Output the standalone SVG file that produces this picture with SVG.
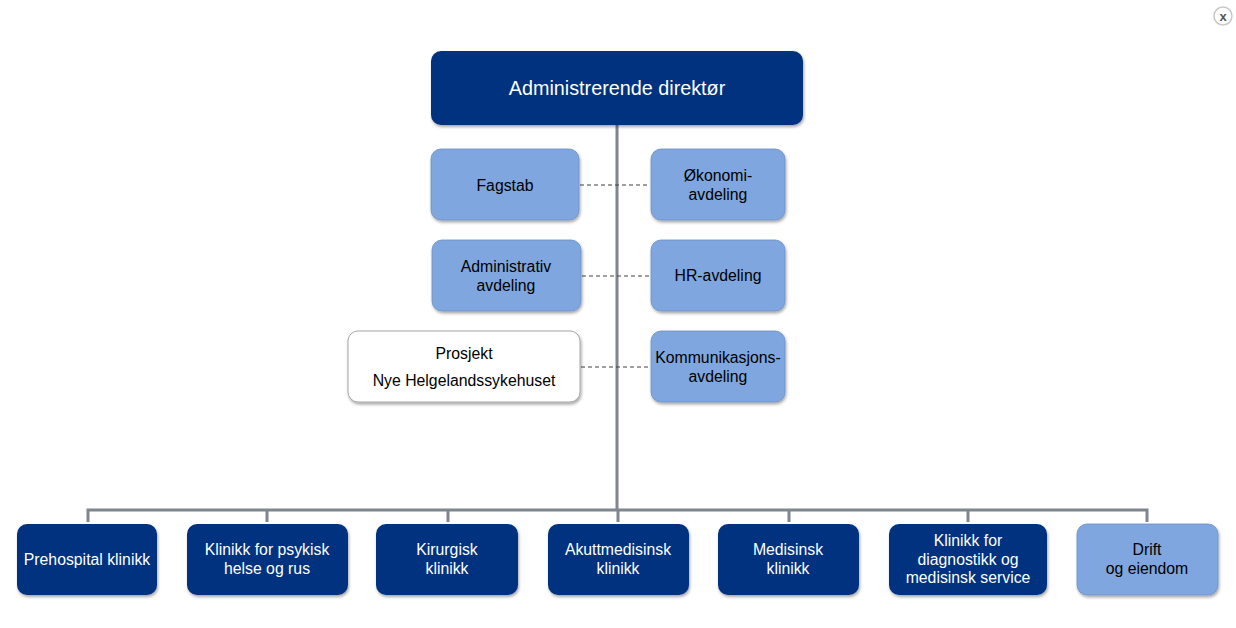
<svg xmlns="http://www.w3.org/2000/svg" width="1236" height="628" viewBox="0 0 1236 628">
<defs>
<filter id="sh" x="-10%" y="-10%" width="125%" height="130%">
<feDropShadow dx="1" dy="2" stdDeviation="1.5" flood-color="#000" flood-opacity="0.35"/>
</filter>
</defs>
<style>
.dark{fill:#003380;filter:url(#sh)}
.light{fill:#7fa6de;stroke:#6b8fc4;stroke-width:0.8;filter:url(#sh)}
.white{fill:#fff;stroke:#a6a6a6;stroke-width:1;filter:url(#sh)}
text{font-family:"Liberation Sans",Arial,sans-serif;font-size:15.8px;text-anchor:middle}
.wt{fill:#fff}
.bt{fill:#000}
.conn{stroke:#7f868f;stroke-width:3;fill:none}
.dash{stroke:#404040;stroke-width:1;stroke-dasharray:4,3;fill:none}
</style>
<rect width="1236" height="628" fill="#fff"/>
<g id="close">
<circle cx="1223" cy="16" r="9" fill="#fff" stroke="#c8c8c8" stroke-width="1.5"/>
<text x="1223" y="20.5" style="font-size:13px;font-weight:bold;fill:#555">x</text>
</g>
<g id="connectors">
<path class="conn" d="M617,125 V510 M88,522 V510 H1147 V522 M267,510 V522 M448,510 V522 M618,510 V522 M789,510 V522 M968,510 V522"/>
<path class="dash" d="M580,185 H650 M582,276 H650 M581,367 H650"/>
</g>
<g id="ceo">
<rect class="dark" x="431" y="51" width="372" height="74" rx="10"/>
<text class="wt" x="617" y="95" style="font-size:19.8px">Administrerende direktør</text>
</g>
<g id="fagstab">
<rect class="light" x="431" y="149" width="148" height="71" rx="10"/>
<text class="bt" x="505" y="190.5">Fagstab</text>
</g>
<g id="okonomi">
<rect class="light" x="651" y="149" width="134" height="71" rx="10"/>
<text class="bt" x="718" y="180.5">Økonomi-</text>
<text class="bt" x="718" y="199.5">avdeling</text>
</g>
<g id="administrativ">
<rect class="light" x="432" y="240" width="149" height="71" rx="10"/>
<text class="bt" x="506" y="271.5">Administrativ</text>
<text class="bt" x="506" y="290.5">avdeling</text>
</g>
<g id="hr">
<rect class="light" x="651" y="240" width="134" height="71" rx="10"/>
<text class="bt" x="718" y="280.5">HR-avdeling</text>
</g>
<g id="prosjekt">
<rect class="white" x="348" y="331" width="232" height="71" rx="10"/>
<text class="bt" x="464" y="358.5">Prosjekt</text>
<text class="bt" x="464" y="385.5">Nye Helgelandssykehuset</text>
</g>
<g id="kommunikasjon">
<rect class="light" x="651" y="331" width="134" height="71" rx="10"/>
<text class="bt" x="718" y="362.5">Kommunikasjons-</text>
<text class="bt" x="718" y="381.5">avdeling</text>
</g>
<g id="prehospital">
<rect class="dark" x="17" y="524" width="140" height="71" rx="10"/>
<text class="wt" x="87" y="564.5">Prehospital klinikk</text>
</g>
<g id="psykisk">
<rect class="dark" x="187" y="524" width="161" height="71" rx="10"/>
<text class="wt" x="267" y="554.5">Klinikk for psykisk</text>
<text class="wt" x="267" y="573.5">helse og rus</text>
</g>
<g id="kirurgisk">
<rect class="dark" x="376" y="524" width="142" height="71" rx="10"/>
<text class="wt" x="447" y="554.5">Kirurgisk</text>
<text class="wt" x="447" y="573.5">klinikk</text>
</g>
<g id="akutt">
<rect class="dark" x="548" y="524" width="141" height="71" rx="10"/>
<text class="wt" x="618" y="554.5">Akuttmedisinsk</text>
<text class="wt" x="618" y="573.5">klinikk</text>
</g>
<g id="medisinsk">
<rect class="dark" x="718" y="524" width="141" height="71" rx="10"/>
<text class="wt" x="788" y="554.5">Medisinsk</text>
<text class="wt" x="788" y="573.5">klinikk</text>
</g>
<g id="diagnostikk">
<rect class="dark" x="889" y="524" width="158" height="71" rx="10"/>
<text class="wt" x="968" y="545.5">Klinikk for</text>
<text class="wt" x="968" y="564.5">diagnostikk og</text>
<text class="wt" x="968" y="582.5">medisinsk service</text>
</g>
<g id="drift">
<rect class="light" x="1077" y="524" width="141" height="71" rx="10"/>
<text class="bt" x="1147" y="554.5">Drift</text>
<text class="bt" x="1147" y="573.5">og eiendom</text>
</g>
</svg>
